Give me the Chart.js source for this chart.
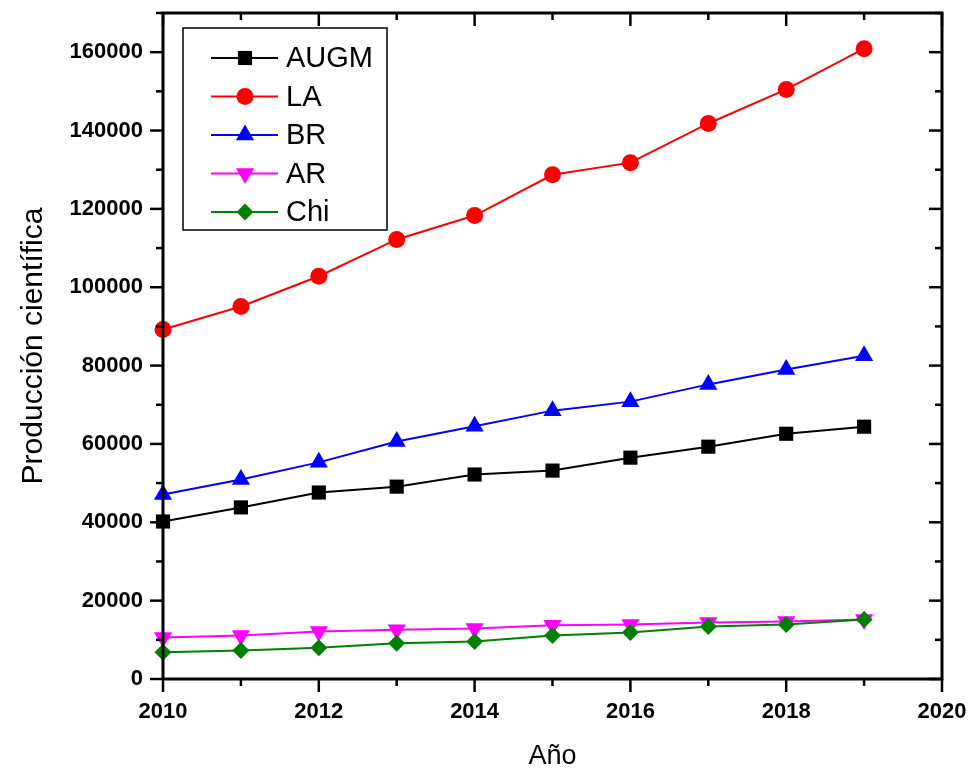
<!DOCTYPE html>
<html>
<head>
<meta charset="utf-8">
<script src="https://cdn.jsdelivr.net/npm/chart.js"></script>
<style>
  html, body { margin: 0; padding: 0; background: #fff; }
  #chart { display: block; }
</style>
</head>
<body>
<canvas id="chart" width="973" height="773"></canvas>
<script>
const years = [2010, 2011, 2012, 2013, 2014, 2015, 2016, 2017, 2018, 2019];
const augm = [40200, 43800, 47600, 49100, 52200, 53200, 56500, 59300, 62600, 64400];
const la = [89200, 95100, 102800, 112200, 118300, 128700, 131800, 141800, 150500, 160900];
const br = [47100, 50900, 55300, 60600, 64500, 68500, 70800, 75200, 79000, 82500];
const ar = [10600, 11100, 12100, 12600, 12900, 13700, 13900, 14400, 14700, 15200];
const chi = [6800, 7300, 8000, 9100, 9600, 11100, 11900, 13400, 13900, 15200];

const FONT = "'Liberation Sans', Arial, Helvetica, sans-serif";

function series(label, values, color, pointStyle, radius, rotation, order) {
  return {
    label,
    data: years.map((yr, i) => ({ x: yr, y: values[i] })),
    borderColor: color,
    backgroundColor: color,
    borderWidth: 2,
    pointStyle,
    pointRadius: radius,
    pointRotation: rotation,
    pointBorderWidth: 0,
    pointBackgroundColor: color,
    clip: false,
    order,
  };
}

const datasets = [
  series("AUGM", augm, "#000000", "rect", 10, 0, 4),
  series("LA", la, "#ff0000", "circle", 8.5, 0, 3),
  series("BR", br, "#0000ff", "triangle", 10.5, 0, 2),
  series("AR", ar, "#ff00ff", "triangle", 10.5, 180, 1),
  series("Chi", chi, "#008000", "rectRot", 8.5, 0, 0),
];

// ── frame, in/out ticks and boxed legend ──

function line(ctx, x1, y1, x2, y2) {
  ctx.beginPath();
  ctx.moveTo(x1, y1);
  ctx.lineTo(x2, y2);
  ctx.stroke();
}

const framePlugin = {
  id: "frame",
  afterDatasetsDraw(chart) {
    const { ctx, chartArea: a, scales } = chart;
    const x = scales.x;
    const y = scales.y;
    ctx.save();
    ctx.strokeStyle = "#000";
    ctx.lineWidth = 3;
    ctx.strokeRect(a.left, a.top, a.right - a.left, a.bottom - a.top);

    ctx.lineWidth = 2.5;
    x.ticks.forEach((t) => {
      const px = x.getPixelForValue(t.value);
      const len = t.value % 2 === 0 ? 13 : 7;
      line(ctx, px, a.bottom, px, a.bottom + len);
      line(ctx, px, a.top, px, a.top + len);
    });
    y.ticks.forEach((t) => {
      const py = y.getPixelForValue(t.value);
      const len = t.value % 20000 === 0 ? 13 : 7;
      line(ctx, a.left, py, a.left - len, py);
      line(ctx, a.right, py, a.right - len, py);
    });

    // legend box
    const bx = a.left + 20;
    const by = a.top + 15;
    ctx.lineWidth = 1.5;
    ctx.strokeRect(bx, by, 204, 202);
    ctx.font = "29px " + FONT;
    ctx.textBaseline = "middle";
    ctx.textAlign = "left";
    chart.data.datasets.forEach((ds, i) => {
      const ry = by + 30 + i * 38.5;
      ctx.strokeStyle = ds.borderColor;
      ctx.lineWidth = 2;
      line(ctx, bx + 28, ry, bx + 95, ry);
      ctx.fillStyle = ds.pointBackgroundColor;
      Chart.helpers.drawPoint(
        ctx,
        { pointStyle: ds.pointStyle, radius: ds.pointRadius, rotation: ds.pointRotation, borderWidth: 0 },
        bx + 62,
        ry
      );
      ctx.fillStyle = "#000";
      ctx.fillText(ds.label, bx + 103, ry + 1);
    });
    ctx.restore();
  },
};

new Chart(document.getElementById("chart"), {
  type: "line",
  data: { datasets },
  options: {
    responsive: false,
    animation: false,
    layout: { padding: { top: 13, right: 31, left: 0, bottom: 0 } },
    plugins: {
      legend: { display: false },
      tooltip: { enabled: false },
    },
    scales: {
      x: {
        type: "linear",
        min: 2010,
        max: 2020,
        afterFit: (s) => {
          s.height = 94;
          s.paddingLeft = 0;
          s.paddingRight = 0;
        },
        border: { display: false },
        grid: { display: false, drawTicks: false },
        ticks: {
          stepSize: 1,
          autoSkip: false,
          maxRotation: 0,
          padding: 20,
          color: "#000",
          font: { family: FONT, size: 22, weight: "bold" },
          callback: (v) => (v % 2 === 0 ? String(v) : ""),
        },
        title: {
          display: true,
          text: "Año",
          color: "#000",
          font: { family: FONT, size: 27 },
          padding: { top: 0, bottom: 0 },
        },
      },
      y: {
        min: 0,
        max: 170000,
        afterFit: (s) => {
          s.width = 163;
          s.paddingTop = 0;
          s.paddingBottom = 0;
        },
        border: { display: false },
        grid: { display: false, drawTicks: false },
        ticks: {
          stepSize: 10000,
          autoSkip: false,
          padding: 20,
          color: "#000",
          font: { family: FONT, size: 22, weight: "bold" },
          callback: (v) => (v % 20000 === 0 ? String(v) : ""),
        },
        title: {
          display: true,
          text: "Producción científica",
          color: "#000",
          font: { family: FONT, size: 30 },
          padding: { top: 16, bottom: 0 },
        },
      },
    },
  },
  plugins: [framePlugin],
});
</script>
</body>
</html>
